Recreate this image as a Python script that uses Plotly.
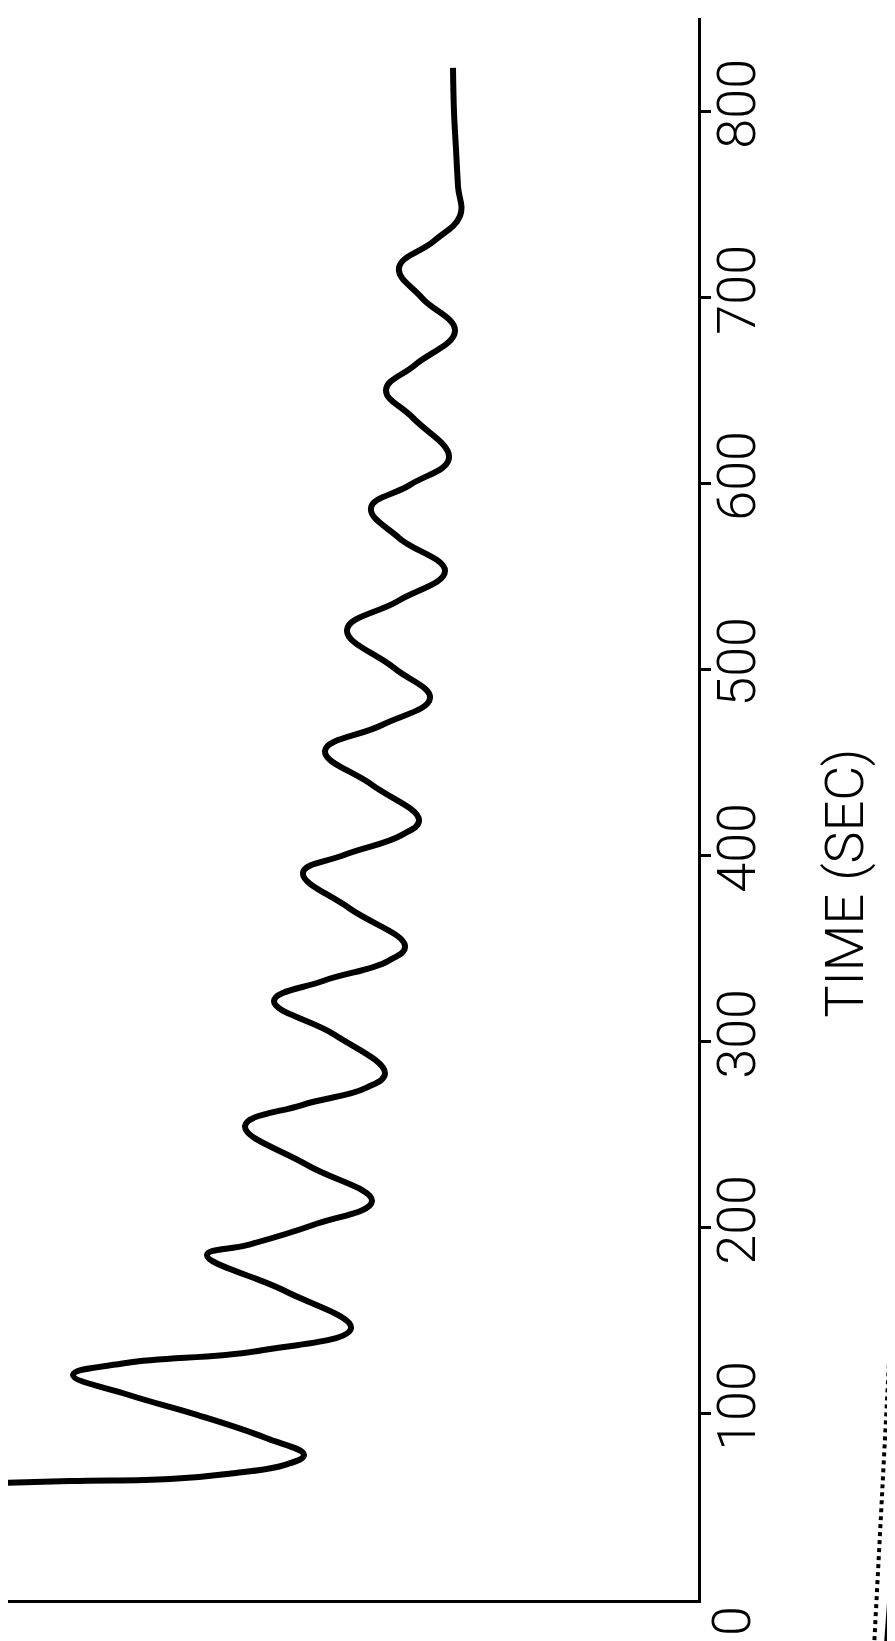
import plotly.graph_objects as go

# Time (s) and signal (arbitrary units, distance from the time axis)
time_s = [62.5, 64.0, 65.1, 68.3, 72.6, 78.0, 87.1, 99.5, 110.2, 121.0, 127.4, 133.9,
          146.2, 166.1, 185.5, 190.9, 201.6, 214.5, 233.9, 254.8, 266.1, 275.3, 283.3,
          303.8, 322.0, 332.8, 343.5, 351.6, 372.0, 390.9, 400.5, 411.3, 419.4, 438.2,
          456.5, 470.4, 484.9, 501.1, 521.5, 537.1, 553.2, 571.0, 587.1, 599.5, 614.0,
          635.5, 650.5, 664.0, 682.3, 700.0, 716.1, 730.6, 744.1, 760.0, 780.0, 800.0, 823.7]
signal = [7.20, 6.28, 5.28, 4.62, 4.13, 3.94, 4.32, 5.01, 5.69, 6.25, 5.72, 4.40,
          3.47, 4.13, 4.91, 4.50, 3.85, 3.26, 3.91, 4.53, 3.96, 3.32, 3.13,
          3.63, 4.24, 3.75, 3.10, 2.93, 3.49, 3.95, 3.54, 2.96, 2.79, 3.26,
          3.73, 3.16, 2.68, 3.04, 3.51, 3.00, 2.53, 2.99, 3.27, 2.88, 2.49,
          2.85, 3.12, 2.83, 2.43, 2.76, 2.99, 2.64, 2.38, 2.40, 2.42, 2.44, 2.45]

time_ticks = [100, 200, 300, 400, 500, 600, 700, 800]
time_tick_labels = ["100", "200", "300", "400", "500", "600", "700", "800"]
axis_title = "TIME (SEC)"
origin_label = "0"

FONT = dict(family="Roboto, Open Sans, Liberation Sans, sans-serif", color="black", size=54, weight=300)

fig = go.Figure()
fig.add_trace(go.Scatter(
    x=signal, y=time_s, mode="lines",
    line=dict(color="black", width=6, shape="spline", smoothing=1.2),
    showlegend=False, hoverinfo="skip",
))

fig.update_layout(
    width=895, height=1641,
    margin=dict(l=0, r=205, t=10, b=49),
    paper_bgcolor="white", plot_bgcolor="white",
    font=FONT,
    xaxis=dict(range=[6.9, 0], showline=True, linecolor="black", linewidth=3,
               showgrid=False, zeroline=False, ticks="", showticklabels=False),
    yaxis=dict(range=[0, 850.5], side="right", showline=True, linecolor="black", linewidth=3,
               showgrid=False, zeroline=False, ticks="outside", ticklen=10, tickwidth=3,
               tickcolor="black", tickvals=time_ticks, ticktext=time_tick_labels,
               tickangle=-90, tickfont=FONT, ticklabelstandoff=-21),
    annotations=[
        dict(text=axis_title, xref="paper", yref="y", x=1, y=385, xanchor="center",
             yanchor="middle", xshift=147, textangle=-90, showarrow=False, font=FONT),
        dict(text=origin_label, xref="paper", yref="y", x=1, y=0, xanchor="center",
             yanchor="middle", xshift=33, yshift=-21, textangle=-90, showarrow=False, font=FONT),
    ],
    shapes=[
        dict(type="line", xref="paper", yref="paper", x0=1.297, y0=0.121, x1=1.272, y1=-0.031,
             line=dict(color="black", width=4)),
        dict(type="line", xref="paper", yref="paper", x0=1.290, y0=0.26, x1=1.255, y1=-0.031,
             line=dict(color="black", width=4, dash="dot")),
    ],
)

fig.write_html("out.html")
